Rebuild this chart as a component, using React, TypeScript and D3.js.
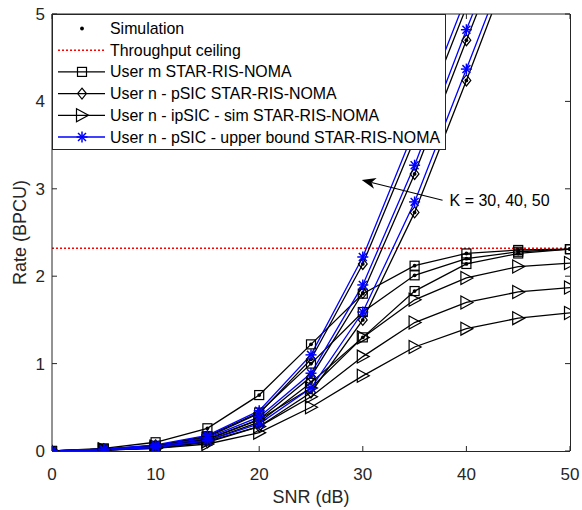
import React from 'react';
import * as d3 from 'd3';

const SNR = [0, 5, 10, 15, 20, 25, 30, 35, 40, 45, 50];

const userM_K30 = [0, 0.01, 0.04, 0.12, 0.33, 0.78, 1.30, 1.83, 2.14, 2.26, 2.31];
const userM_K40 = [0, 0.02, 0.06, 0.17, 0.44, 1.00, 1.59, 2.01, 2.20, 2.28, 2.31];
const userM_K50 = [0, 0.03, 0.10, 0.26, 0.64, 1.22, 1.80, 2.12, 2.26, 2.30, 2.31];

const pSIC_K30 = [0, 0.01, 0.03, 0.10, 0.28, 0.67, 1.50, 2.73, 4.24, 5.8, 7.3];
const pSIC_K40 = [0, 0.01, 0.05, 0.13, 0.36, 0.85, 1.81, 3.17, 4.70, 6.2, 7.7];
const pSIC_K50 = [0, 0.02, 0.06, 0.16, 0.43, 1.05, 2.14, 3.57, 5.08, 6.6, 8.1];

const ipSIC_K30 = [0, 0.01, 0.03, 0.08, 0.21, 0.50, 0.86, 1.19, 1.40, 1.52, 1.58];
const ipSIC_K40 = [0, 0.01, 0.04, 0.11, 0.28, 0.62, 1.08, 1.47, 1.70, 1.82, 1.87];
const ipSIC_K50 = [0, 0.02, 0.05, 0.14, 0.36, 0.72, 1.30, 1.73, 1.98, 2.11, 2.15];

const upper_K30 = [0, 0.01, 0.04, 0.12, 0.31, 0.72, 1.59, 2.85, 4.37, 5.9, 7.4];
const upper_K40 = [0, 0.02, 0.05, 0.15, 0.39, 0.89, 1.90, 3.27, 4.82, 6.3, 7.8];
const upper_K50 = [0, 0.02, 0.07, 0.18, 0.46, 1.10, 2.22, 3.68, 5.2, 6.7, 8.2];

const CEILING = 2.32;

const X_TICKS = [0, 10, 20, 30, 40, 50];
const Y_TICKS = [0, 1, 2, 3, 4, 5];

const LEGEND_LABELS = [
  'Simulation',
  'Throughput ceiling',
  'User m STAR-RIS-NOMA',
  'User n - pSIC STAR-RIS-NOMA',
  'User n - ipSIC - sim STAR-RIS-NOMA',
  'User n - pSIC - upper bound STAR-RIS-NOMA',
];

const ANNOT_TEXT = 'K = 30, 40, 50';
const ANNOT_TIP = [29.9, 3.1];
const ANNOT_TAIL = [37.7, 2.87];

const W = 582;
const H = 510;
const FONT = '"Liberation Sans", Arial, Helvetica, sans-serif';
const BLUE = '#0000ff';
const INK = '#262626';

type MarkerKind = 'square' | 'diamond' | 'tri' | 'star' | 'dot';

function Marker({ kind, cx, cy, color }: { kind: MarkerKind; cx: number; cy: number; color: string }) {
  const sw = 1.2;
  if (kind === 'square') {
    return <rect x={cx - 4.5} y={cy - 4.5} width={9} height={9} fill="none" stroke={color} strokeWidth={sw} />;
  }
  if (kind === 'diamond') {
    const r = 5.5;
    return (
      <polygon
        points={`${cx},${cy - r} ${cx + r * 0.8},${cy} ${cx},${cy + r} ${cx - r * 0.8},${cy}`}
        fill="none"
        stroke={color}
        strokeWidth={sw}
      />
    );
  }
  if (kind === 'tri') {
    return (
      <polygon
        points={`${cx - 5.5},${cy - 6.5} ${cx - 5.5},${cy + 6.5} ${cx + 6.5},${cy}`}
        fill="none"
        stroke={color}
        strokeWidth={sw}
      />
    );
  }
  if (kind === 'star') {
    const r = 5.5;
    const d = r * 0.72;
    return (
      <g stroke={color} strokeWidth={1.5}>
        <line x1={cx - r} y1={cy} x2={cx + r} y2={cy} />
        <line x1={cx} y1={cy - r} x2={cx} y2={cy + r} />
        <line x1={cx - d} y1={cy - d} x2={cx + d} y2={cy + d} />
        <line x1={cx - d} y1={cy + d} x2={cx + d} y2={cy - d} />
      </g>
    );
  }
  return <circle cx={cx} cy={cy} r={1.9} fill={color} />;
}

export default function App() {
  const left = 52;
  const right = 570;
  const top = 14;
  const bottom = 451;
  const x = d3.scaleLinear().domain([0, 50]).range([left, right]);
  const y = d3.scaleLinear().domain([0, 5]).range([bottom, top]);

  const line = d3
    .line<number>()
    .x((_, i) => x(SNR[i]))
    .y((d) => y(d));

  type Series = { data: number[]; kind: MarkerKind; color: string; sim: boolean };
  const blackSeries: Series[] = [
    { data: userM_K30, kind: 'square', color: '#000', sim: true },
    { data: userM_K40, kind: 'square', color: '#000', sim: true },
    { data: userM_K50, kind: 'square', color: '#000', sim: true },
    { data: pSIC_K30, kind: 'diamond', color: '#000', sim: true },
    { data: pSIC_K40, kind: 'diamond', color: '#000', sim: true },
    { data: pSIC_K50, kind: 'diamond', color: '#000', sim: true },
    { data: ipSIC_K30, kind: 'tri', color: '#000', sim: false },
    { data: ipSIC_K40, kind: 'tri', color: '#000', sim: false },
    { data: ipSIC_K50, kind: 'tri', color: '#000', sim: false },
  ];
  const blueSeries: Series[] = [
    { data: upper_K30, kind: 'star', color: BLUE, sim: false },
    { data: upper_K40, kind: 'star', color: BLUE, sim: false },
    { data: upper_K50, kind: 'star', color: BLUE, sim: false },
  ];
  const allSeries = [...blackSeries, ...blueSeries];

  const tipX = x(ANNOT_TIP[0]);
  const tipY = y(ANNOT_TIP[1]);
  const tailX = x(ANNOT_TAIL[0]);
  const tailY = y(ANNOT_TAIL[1]);
  const ang = Math.atan2(tipY - tailY, tipX - tailX);
  const ux = Math.cos(ang);
  const uy = Math.sin(ang);
  const px = -uy;
  const py = ux;
  const hl = 14;
  const hw = 5.5;
  const notch = 4;
  const b1x = tipX - ux * hl + px * hw;
  const b1y = tipY - uy * hl + py * hw;
  const b2x = tipX - ux * hl - px * hw;
  const b2y = tipY - uy * hl - py * hw;
  const nx = tipX - ux * (hl - notch);
  const ny = tipY - uy * (hl - notch);

  const legL = left;
  const legR = 445;
  const legT = top;
  const legB = 149;
  const rowY = (i: number) => 28.5 + i * 21.7;
  const sampleX1 = 58;
  const sampleX2 = 105;
  const sampleM = 82;
  const textX = 110;

  const legendKinds: (MarkerKind | null)[] = ['dot', null, 'square', 'diamond', 'tri', 'star'];

  return (
    <svg
      width={W}
      height={H}
      style={{ position: 'absolute', left: 0, top: 0, background: '#fff' }}
      fontFamily={FONT}
    >
      <defs>
        <clipPath id="plotclip">
          <rect x={left} y={top} width={right - left} height={bottom - top} />
        </clipPath>
      </defs>
      <rect x={0} y={0} width={W} height={H} fill="#fff" />

      {X_TICKS.map((t) => (
        <g key={'xt' + t}>
          <line x1={x(t)} x2={x(t)} y1={bottom} y2={bottom - 5} stroke={INK} strokeWidth={1} />
          <line x1={x(t)} x2={x(t)} y1={top} y2={top + 5} stroke={INK} strokeWidth={1} />
          <text x={x(t)} y={480} textAnchor="middle" fontSize={17} fill={INK}>
            {t}
          </text>
        </g>
      ))}
      {Y_TICKS.map((t) => (
        <g key={'yt' + t}>
          <line x1={left} x2={left + 5} y1={y(t)} y2={y(t)} stroke={INK} strokeWidth={1} />
          <line x1={right} x2={right - 5} y1={y(t)} y2={y(t)} stroke={INK} strokeWidth={1} />
          <text x={45} y={y(t) + 6} textAnchor="end" fontSize={17} fill={INK}>
            {t}
          </text>
        </g>
      ))}

      <g clipPath="url(#plotclip)">
        <line
          x1={left}
          x2={right}
          y1={y(CEILING)}
          y2={y(CEILING)}
          stroke="#ff0000"
          strokeWidth={1.6}
          strokeDasharray="2,2"
        />
        {allSeries.map((s, i) => (
          <path key={'l' + i} d={line(s.data) || ''} fill="none" stroke={s.color} strokeWidth={1.3} />
        ))}
        {allSeries.map((s, i) => (
          <g key={'m' + i}>
            {s.data.map((v, j) => (
              <g key={j}>
                <Marker kind={s.kind} cx={x(SNR[j])} cy={y(v)} color={s.color} />
                {s.sim ? <Marker kind="dot" cx={x(SNR[j])} cy={y(v)} color="#000" /> : null}
              </g>
            ))}
          </g>
        ))}
      </g>

      <line x1={left} x2={left} y1={top} y2={bottom} stroke={INK} strokeWidth={1} />
      <line x1={left} x2={right} y1={top} y2={top} stroke={INK} strokeWidth={1} />
      <line x1={right + 0.5} x2={right + 0.5} y1={top} y2={bottom} stroke={INK} strokeWidth={1} />
      <line x1={left} x2={right} y1={bottom + 0.5} y2={bottom + 0.5} stroke={INK} strokeWidth={1} />

      <line x1={tailX} y1={tailY} x2={nx} y2={ny} stroke="#000" strokeWidth={1.1} />
      <polygon points={`${tipX},${tipY} ${b1x},${b1y} ${nx},${ny} ${b2x},${b2y}`} fill="#000" />
      <text x={tailX + 7} y={tailY + 6} fontSize={16} fill="#000">
        {ANNOT_TEXT}
      </text>

      <rect x={legL + 0.5} y={legT + 0.5} width={legR - legL} height={legB - legT} fill="#fff" stroke={INK} strokeWidth={1} />
      {LEGEND_LABELS.map((lab, i) => {
        const ry = rowY(i);
        const kind = legendKinds[i];
        return (
          <g key={'lg' + i}>
            {i === 1 ? (
              <line x1={sampleX1} x2={sampleX2} y1={ry} y2={ry} stroke="#ff0000" strokeWidth={1.6} strokeDasharray="2,2" />
            ) : null}
            {i >= 2 ? (
              <line x1={sampleX1} x2={sampleX2} y1={ry} y2={ry} stroke={i === 5 ? BLUE : '#000'} strokeWidth={1.3} />
            ) : null}
            {kind ? <Marker kind={kind} cx={sampleM} cy={ry} color={i === 5 ? BLUE : '#000'} /> : null}
            <text x={textX} y={ry + 5.5} fontSize={15.9} fill="#000">
              {lab}
            </text>
          </g>
        );
      })}

      <text x={(left + right) / 2} y={503} textAnchor="middle" fontSize={18} fill={INK}>
        SNR (dB)
      </text>
      <text
        transform={`translate(26,${(top + bottom) / 2}) rotate(-90)`}
        textAnchor="middle"
        fontSize={18}
        fill={INK}
      >
        Rate (BPCU)
      </text>
    </svg>
  );
}
